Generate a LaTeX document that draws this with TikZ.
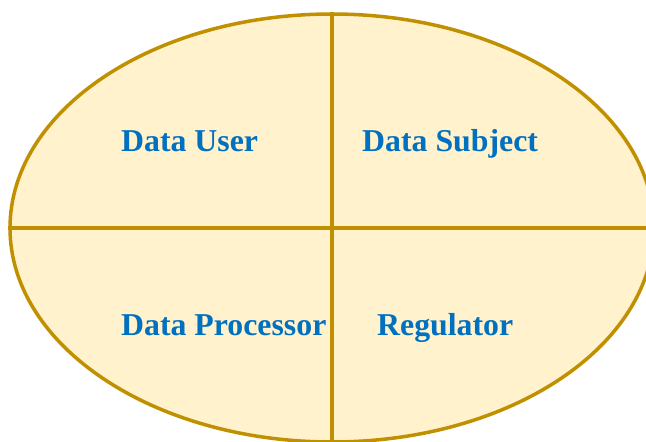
\documentclass[tikz,border=0pt]{standalone}
\usepackage{fontspec}
\setmainfont{Liberation Serif}
\usetikzlibrary{shapes.geometric}
\definecolor{rimgold}{HTML}{C09000}
\definecolor{ovalfill}{HTML}{FFF2CC}
\definecolor{roleblue}{HTML}{0070C0}
\tikzset{
  role/.style={anchor=base west, inner sep=0pt, text=roleblue, font=\fontsize{31.8}{36}\selectfont\bfseries},
  divider/.style={rimgold, line width=3.5pt}
}
\begin{document}
\begin{tikzpicture}[x=1pt,y=1pt]
    \useasboundingbox (0,0) rectangle (646,-442);
    \clip (0,0) rectangle (646,-442);
    \node [ellipse, draw=rimgold, fill=ovalfill, line width=3.5pt, inner sep=0pt, minimum width=644pt, minimum height=428pt] (oval) at (332,-228) {};
    \draw [divider] (oval.north) -- (oval.south);
    \draw [divider] (oval.west) -- (oval.east);
    \node [role] (user) at (121,-151) {Data User};
    \node [role] (subject) at (362,-151) {Data Subject};
    \node [role] (processor) at (121,-335) {Data Processor};
    \node [role] (regulator) at (377,-335) {Regulator};
  \end{tikzpicture}
\end{document}
